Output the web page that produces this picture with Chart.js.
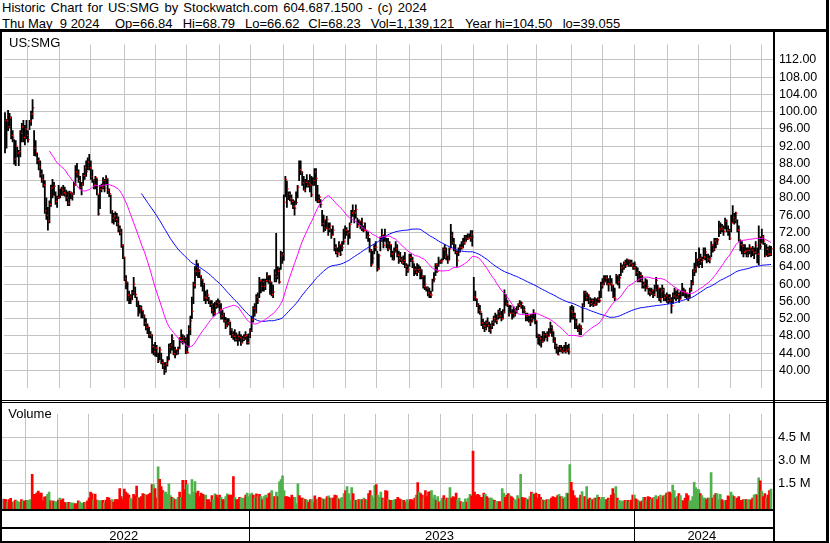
<!DOCTYPE html>
<html>
<head>
<meta charset="utf-8">
<script src="https://cdn.jsdelivr.net/npm/chart.js@4.4.1/dist/chart.umd.min.js"></script>
<style>
  html, body { margin: 0; padding: 0; background: #fff; }
  body { width: 830px; height: 543px; position: relative; overflow: hidden; font-family: "Liberation Sans", Arial, sans-serif; }
  .txt { position: absolute; font-size: 13px; line-height: 13px; color: #000; white-space: pre; }
  .ln { position: absolute; background: #000; }
  canvas { position: absolute; left: 0; }
</style>
</head>
<body>
<canvas id="priceChart" width="830" height="368" style="top:32px"></canvas>
<canvas id="volChart" width="830" height="141" style="top:402px"></canvas>

<div class="txt" style="left:2px;top:1px;word-spacing:1.6px">Historic Chart for US:SMG by Stockwatch.com 604.687.1500 - (c) 2024</div>
<div class="txt" style="left:2px;top:16.5px">Thu May  9 2024</div>
<div class="txt" style="left:115px;top:16.5px">Op=66.84</div>
<div class="txt" style="left:182.7px;top:16.5px">Hi=68.79</div>
<div class="txt" style="left:245px;top:16.5px">Lo=66.62</div>
<div class="txt" style="left:308.3px;top:16.5px">Cl=68.23</div>
<div class="txt" style="left:370.7px;top:16.5px">Vol=1,139,121</div>
<div class="txt" style="left:465px;top:16.5px">Year hi=104.50</div>
<div class="txt" style="left:562.7px;top:16.5px">lo=39.055</div>
<div class="txt" style="left:9px;top:35.7px">US:SMG</div>
<div class="txt" style="left:8.3px;top:406.7px">Volume</div>

<!-- frame lines -->
<div class="ln" style="left:0;top:29px;width:829px;height:3px"></div>
<div class="ln" style="left:0;top:29px;width:2px;height:514px"></div>
<div class="ln" style="left:826px;top:0;width:3px;height:543px"></div>
<div class="ln" style="left:773px;top:32px;width:2px;height:511px"></div>
<div class="ln" style="left:0;top:400px;width:829px;height:1px"></div>
<div class="ln" style="left:0;top:402px;width:829px;height:1px"></div>
<div class="ln" style="left:0;top:509px;width:775px;height:2px"></div>
<div class="ln" style="left:0;top:527px;width:775px;height:2px"></div>
<div class="ln" style="left:0;top:541px;width:829px;height:2px"></div>

<script>
// Daily bars, 10 May 2022 .. 9 May 2024 (index = trading day)
const closes = [
  98.0,97.8,96.5,98.6,94.5,94.0,89.0,92.0,90.4,90.8,
  95.0,96.5,94.0,96.0,94.5,93.5,97.8,99.5,100.9,91.5,
  90.5,88.6,87.2,85.5,84.3,83.0,77.0,76.0,74.6,78.5,
  82.3,80.5,82.7,79.2,80.1,82.3,80.6,81.8,81.2,80.9,
  80.0,78.8,81.2,80.8,81.0,83.0,86.0,85.5,84.0,82.5,
  83.2,85.2,87.0,86.1,88.3,87.0,85.0,84.2,83.0,84.7,
  81.0,76.3,82.0,82.5,84.0,82.3,84.5,81.8,81.0,77.0,
  75.3,75.8,75.0,74.0,72.8,72.0,69.0,66.3,61.3,60.5,
  57.5,57.0,56.3,58.0,60.0,57.6,56.2,53.2,54.5,53.9,
  52.6,51.0,50.0,50.2,48.3,48.0,45.5,44.3,45.2,45.0,
  42.2,44.8,41.8,41.2,40.0,41.5,42.3,45.4,45.9,47.5,
  43.9,44.8,44.2,45.0,47.6,47.0,47.6,46.9,44.3,44.2,
  49.6,51.5,53.7,59.8,63.0,63.8,63.0,62.0,61.0,60.0,
  57.0,56.8,57.5,56.3,55.3,54.0,53.3,55.0,55.8,55.5,
  54.2,52.6,53.0,51.5,50.4,51.0,51.5,49.4,48.3,47.9,
  47.2,48.3,47.9,47.6,46.3,47.3,47.9,48.1,46.5,48.0,
  49.2,51.8,54.4,53.5,57.0,56.2,60.8,59.5,60.6,59.5,
  60.8,62.0,60.8,60.5,57.6,58.2,62.5,61.8,63.0,60.5,
  66.6,67.0,79.0,84.3,82.1,80.8,79.8,79.2,78.0,77.6,
  78.9,82.5,86.5,85.9,83.5,81.8,83.6,82.9,83.5,83.0,
  80.7,84.0,86.0,84.5,79.3,80.2,78.5,74.0,74.9,73.0,
  75.0,72.8,73.5,71.3,72.5,68.5,67.4,67.0,69.2,66.9,
  68.5,69.9,72.5,71.7,72.0,73.8,76.5,76.9,76.5,77.3,
  73.5,74.6,73.0,74.2,72.4,72.6,71.0,71.3,67.9,64.5,
  66.0,68.5,68.6,63.6,66.6,70.3,71.5,69.0,71.0,69.5,
  68.2,69.2,67.0,65.6,67.5,68.2,66.7,66.0,65.6,65.0,
  65.5,64.1,63.2,63.4,66.2,65.5,65.2,63.4,62.8,63.4,
  62.9,63.4,61.8,59.5,60.0,59.1,58.0,57.6,57.5,60.6,
  61.2,64.5,63.0,65.5,65.2,65.4,68.0,66.3,66.8,65.4,
  68.2,71.3,69.6,68.0,67.3,65.5,67.5,68.5,68.4,69.6,
  69.8,70.6,70.5,70.8,71.6,70.9,57.0,56.6,55.1,54.0,
  53.6,51.0,50.3,49.7,51.0,50.4,49.4,50.4,51.2,52.0,
  51.6,52.5,53.6,52.6,52.0,53.5,56.9,55.5,55.2,53.3,
  54.8,53.3,52.9,53.7,54.4,55.3,55.0,55.6,54.1,53.6,
  52.6,52.9,51.2,52.0,51.5,53.2,51.6,48.5,47.9,47.4,
  46.8,48.3,47.3,48.3,47.9,48.6,50.0,49.4,46.8,45.7,
  45.0,43.6,45.0,44.5,45.0,44.3,44.5,44.9,44.3,53.8,
  53.5,52.6,51.2,50.4,49.4,50.1,49.7,55.0,58.0,56.9,
  57.6,56.2,55.5,56.2,55.3,55.8,55.4,56.5,56.2,59.7,
  60.0,60.5,61.4,60.1,59.8,60.2,59.8,56.9,56.6,62.0,
  60.5,61.5,63.8,64.1,64.9,64.3,65.7,64.6,64.9,64.4,
  63.8,64.6,62.7,61.0,62.0,60.9,59.8,60.2,59.1,59.5,
  58.2,58.0,58.5,57.6,58.7,60.9,59.1,56.6,58.3,58.7,
  56.9,57.3,56.2,56.9,56.3,55.0,57.3,58.7,57.0,57.6,
  56.5,58.0,58.4,58.2,58.0,56.9,56.8,58.8,60.2,63.0,
  63.5,64.0,65.6,66.0,65.2,65.6,66.3,67.5,65.9,65.6,
  65.9,69.0,68.1,70.0,69.5,70.3,72.8,73.2,72.8,72.2,
  74.6,72.5,72.4,70.6,74.2,75.5,74.9,76.4,72.5,70.3,
  69.2,68.8,67.4,67.7,66.6,67.8,68.5,67.9,67.3,67.4,
  69.0,67.0,69.5,68.7,71.0,70.0,66.6,68.1,67.0,66.9,68.23
];
const highs = [
  99.8,98.2,100.3,99.6,98.8,95.6,93.5,93.3,91.7,91.0,
  95.6,97.3,98.0,96.8,98.0,95.6,98.0,100.1,102.8,95.6,
  93.3,90.4,89.3,88.6,86.5,85.4,84.0,80.0,77.8,79.3,
  83.0,84.3,83.6,81.4,80.4,82.9,82.1,82.5,82.9,82.5,
  81.8,81.4,81.6,81.4,81.2,83.6,87.5,88.0,86.5,85.0,
  83.6,85.7,87.5,88.6,89.3,90.1,88.6,86.5,84.3,85.0,
  84.5,80.7,82.9,83.2,84.7,84.3,85.2,84.5,82.1,80.7,
  77.1,76.4,76.8,76.4,75.6,73.5,72.8,69.2,66.3,62.0,
  60.5,58.4,57.6,58.6,61.6,59.3,57.0,56.0,55.1,55.0,
  53.9,52.9,52.0,50.8,50.0,49.0,48.3,46.0,46.5,45.8,
  44.0,45.4,44.0,42.5,41.8,41.8,43.2,46.1,46.3,48.3,
  47.0,45.4,44.7,45.4,47.6,49.4,48.3,48.0,47.6,48.3,
  50.4,52.6,57.0,60.5,64.1,65.6,64.8,63.4,62.0,61.2,
  60.2,58.4,58.7,57.0,56.2,56.2,55.5,55.8,56.2,56.6,
  56.2,55.5,54.0,53.3,52.3,52.0,52.0,51.2,49.7,49.0,
  49.5,48.7,48.3,49.0,48.3,47.9,48.3,49.0,48.3,48.5,
  49.7,52.6,54.8,55.5,57.6,58.0,61.6,61.0,61.2,61.2,
  61.2,62.7,62.0,62.0,60.5,59.8,63.4,71.8,64.1,63.8,
  67.7,67.4,80.7,85.0,83.9,81.4,81.4,80.7,79.6,79.3,
  81.4,82.9,88.6,88.6,86.1,85.0,84.3,85.4,84.0,85.4,
  85.0,84.7,86.8,86.8,82.9,80.7,79.6,77.1,76.0,74.9,
  75.7,74.2,74.2,72.8,73.5,70.6,69.2,68.4,69.9,69.2,
  69.9,72.8,73.5,73.1,72.4,74.2,77.1,78.4,77.1,78.4,
  75.3,74.9,74.6,75.3,73.5,74.2,72.4,72.1,70.6,68.1,
  67.7,69.2,69.9,67.7,67.0,71.0,72.8,71.3,72.8,70.6,
  70.6,69.9,69.2,67.7,68.4,69.9,69.2,67.7,67.4,66.3,
  66.6,67.4,64.8,64.5,67.0,67.0,66.3,64.8,64.1,64.8,
  64.5,64.1,63.4,62.0,62.0,59.4,59.4,59.1,58.4,61.2,
  62.7,64.8,64.8,66.3,65.6,65.9,68.4,69.2,68.4,66.6,
  68.4,73.9,72.1,70.6,69.2,67.7,68.4,69.2,69.9,70.6,
  71.3,71.3,71.7,71.7,72.4,72.4,61.6,58.4,56.6,55.5,
  55.1,53.3,51.9,51.2,51.5,52.2,51.2,50.8,51.5,52.6,
  53.3,52.9,54.0,54.4,53.7,54.1,58.7,57.6,56.2,55.1,
  55.1,54.1,54.8,54.4,54.8,55.5,56.2,55.9,55.1,54.8,
  53.3,53.3,52.6,53.0,53.0,54.1,53.3,51.5,48.3,48.3,
  47.9,49.0,49.0,48.6,49.0,49.7,51.2,50.4,49.0,47.6,
  46.1,45.4,45.8,45.8,45.4,45.8,46.5,45.8,46.1,54.8,
  55.1,54.8,53.3,51.9,50.4,50.8,50.4,55.5,58.4,58.4,
  58.0,57.6,56.9,56.6,56.6,56.9,56.6,56.9,58.4,60.5,
  61.3,62.0,62.0,62.0,61.3,62.0,61.3,59.8,59.1,62.3,
  62.0,62.3,64.9,64.5,65.2,65.6,65.9,65.7,65.6,65.6,
  64.9,65.2,64.1,63.8,63.0,62.7,62.0,60.5,61.3,61.0,
  59.1,59.1,59.1,58.7,59.8,61.6,59.8,59.1,59.1,59.8,
  59.1,57.6,58.0,57.6,57.6,56.9,58.0,59.1,58.4,58.7,
  58.0,58.4,60.2,59.1,58.7,58.0,57.6,59.1,60.9,63.4,
  64.9,67.4,65.9,68.4,67.0,66.3,68.4,68.4,67.0,67.0,
  66.6,69.9,69.2,70.6,70.6,70.6,74.6,74.2,73.9,73.5,
  75.3,74.9,73.5,72.8,76.0,78.2,76.4,76.7,74.9,73.5,
  70.3,69.9,69.2,69.2,68.4,68.4,69.2,68.4,68.8,68.4,
  69.9,68.4,73.5,71.0,72.8,71.3,69.5,69.2,68.6,68.9,68.79
];
const lows = [
  90.4,91.5,95.6,96.2,93.7,93.0,87.8,87.5,89.5,87.5,
  89.5,93.0,93.0,92.3,93.7,92.9,95.8,96.8,98.3,89.8,
  89.7,87.9,86.5,84.8,83.6,82.5,76.4,75.0,72.5,74.2,
  78.0,80.0,80.5,78.5,77.8,79.8,80.0,80.5,80.6,80.4,
  79.3,78.2,78.2,79.8,79.5,80.8,82.9,84.8,83.6,82.1,
  80.7,82.9,84.3,85.0,86.5,86.5,84.3,83.6,82.1,82.1,
  80.7,76.0,77.5,81.4,82.1,81.4,83.0,81.0,80.3,76.4,
  74.2,73.9,74.5,73.5,72.1,71.4,68.5,65.9,60.8,58.9,
  56.2,55.5,55.5,56.4,57.5,56.9,54.8,52.6,53.3,52.2,
  52.2,50.4,49.4,48.5,47.6,47.5,44.0,43.6,43.3,43.2,
  41.8,42.5,41.5,40.4,39.06,39.6,41.0,42.5,44.0,44.7,
  43.6,42.9,43.6,43.8,45.0,46.5,46.1,46.5,43.9,44.0,
  45.4,48.3,52.0,55.5,59.1,62.0,61.5,61.5,59.5,58.4,
  56.2,55.5,56.2,55.5,54.8,53.3,52.6,52.8,54.4,54.6,
  53.3,51.9,51.9,51.2,49.7,50.1,50.5,48.3,47.6,47.2,
  46.8,46.8,45.8,46.8,45.8,46.5,46.9,47.2,46.1,46.1,
  47.6,49.0,51.2,52.6,53.3,55.5,56.9,58.0,58.4,58.4,
  58.7,60.5,60.2,57.6,57.3,56.9,60.5,60.5,61.2,60.2,
  63.4,64.8,65.5,80.3,77.8,79.6,79.3,78.5,77.5,76.0,
  78.5,80.0,84.0,85.4,82.9,81.8,81.4,82.5,82.5,81.4,
  80.3,82.9,82.9,79.3,78.9,78.9,77.8,73.5,72.1,72.4,
  72.8,71.3,72.1,70.6,71.3,67.7,67.0,66.3,67.4,66.6,
  67.7,69.2,70.6,71.3,69.2,70.6,74.2,75.7,74.2,75.3,
  73.1,73.8,72.8,72.4,72.1,72.4,70.6,69.9,67.4,64.1,
  64.8,67.0,67.7,63.0,63.4,67.7,69.9,68.4,69.9,68.4,
  67.7,68.1,66.3,65.6,65.6,67.4,66.3,64.8,65.2,64.8,
  64.5,63.8,62.0,62.7,64.1,65.2,63.8,62.0,62.3,62.0,
  62.7,61.2,61.2,59.1,58.7,58.4,57.3,56.9,56.9,58.4,
  60.5,62.0,62.7,64.1,64.8,64.8,65.6,65.9,65.6,64.8,
  65.6,68.4,69.2,67.7,67.0,64.1,66.6,67.4,68.1,68.4,
  69.2,69.9,70.3,70.6,69.9,68.8,56.2,56.2,54.8,53.3,
  53.0,50.4,49.7,49.0,49.4,50.1,49.0,48.6,49.7,50.4,
  51.2,50.8,51.9,52.2,51.5,51.9,53.3,55.1,54.8,52.6,
  53.3,51.9,52.3,52.6,53.3,54.1,54.8,54.4,53.3,53.3,
  51.5,51.5,51.2,50.4,51.2,51.9,50.8,47.6,46.1,45.8,
  45.4,46.5,46.8,47.6,46.8,47.9,48.6,47.9,46.5,45.0,
  44.0,43.6,44.3,44.3,44.0,44.3,44.0,44.3,43.8,51.2,
  51.9,51.9,49.7,49.7,49.0,48.3,48.3,51.2,54.8,56.2,
  56.2,55.5,54.8,55.1,54.8,55.1,55.1,55.8,55.8,56.9,
  59.1,59.8,60.5,59.8,58.4,59.8,58.4,56.9,56.2,60.2,
  59.8,59.1,62.0,62.7,63.4,63.8,64.5,64.1,64.1,64.1,
  63.4,63.4,62.0,60.5,60.5,60.5,59.1,59.1,58.4,58.9,
  57.6,57.3,57.6,56.9,57.3,58.4,56.9,56.2,55.8,56.9,
  56.2,56.2,55.8,55.5,55.8,53.3,55.5,56.6,56.2,56.6,
  55.8,56.6,57.3,57.3,56.9,56.6,56.2,56.9,58.4,59.8,
  62.0,62.7,64.1,63.8,64.5,63.8,65.9,65.6,64.9,65.2,
  64.9,66.3,67.4,67.7,68.4,69.2,71.0,71.7,72.1,71.3,
  72.8,72.1,71.3,70.3,72.1,74.2,73.9,74.2,72.1,69.9,
  67.7,67.0,66.3,67.0,66.3,66.3,67.0,66.3,66.6,65.9,
  67.0,64.9,64.5,68.1,69.5,69.2,66.3,66.6,66.4,66.5,66.62
];
// volume in thousands of shares
const volumes = [
  480,470,460,270,450,540,280,330,430,370,
  310,270,460,370,360,400,400,420,460,2100,
  790,790,900,1000,880,870,370,610,650,800,
  940,370,370,360,330,310,420,560,420,500,
  270,200,270,270,250,230,230,180,200,370,
  310,210,230,270,300,370,560,940,850,460,
  810,420,400,370,370,400,250,420,600,560,
  400,460,300,460,460,460,1170,650,460,1130,
  940,850,750,560,460,790,690,1330,600,560,
  650,850,790,750,750,810,880,1420,1420,1170,
  560,2580,1770,1290,1040,940,940,800,1480,710,
  600,560,460,460,600,940,600,1710,1100,1710,
  1420,810,750,1750,940,1620,900,1000,650,870,
  790,750,750,460,460,270,710,460,830,750,
  560,750,600,460,460,650,830,750,750,750,
  1940,600,460,460,600,560,560,560,750,880,
  650,790,880,750,560,830,650,790,650,460,
  650,750,560,850,900,1040,650,650,940,650,
  1600,1750,2000,1040,650,650,600,560,750,600,
  600,200,1480,710,560,560,500,460,400,270,
  460,460,300,690,460,500,600,560,500,460,
  500,650,690,560,560,560,750,710,560,460,
  560,600,850,1040,1290,850,400,1230,850,400,
  400,460,460,460,460,560,460,400,850,1040,
  710,560,1370,1420,750,600,940,560,460,1040,
  1000,460,400,400,400,460,460,600,500,460,
  400,400,300,460,270,460,460,370,560,750,
  1560,940,850,750,560,1040,650,940,980,1040,
  560,750,420,650,300,370,560,710,460,560,
  560,1230,560,650,600,880,460,560,330,270,
  300,500,300,560,790,700,3600,940,710,790,
  750,600,600,880,800,650,560,560,560,460,
  400,330,330,330,330,1170,880,600,750,850,
  710,650,560,460,400,710,500,2100,600,560,
  560,460,460,650,940,850,790,880,560,790,
  600,460,400,370,460,460,460,560,650,600,
  560,710,800,650,650,500,600,880,850,2730,
  1580,1040,710,560,560,560,750,980,650,650,
  1290,460,560,460,460,560,560,750,600,460,
  600,600,460,460,560,460,750,1170,850,1290,
  560,400,370,330,370,400,370,400,310,420,
  750,750,500,420,370,300,370,600,600,400,
  650,600,460,560,600,710,460,650,750,560,
  690,750,880,940,940,850,1400,1040,560,650,
  850,710,400,370,560,850,710,370,370,650,
  1580,1230,1100,1100,850,710,560,560,460,560,
  560,2200,560,750,850,850,460,790,460,370,
  370,400,700,650,940,750,650,560,560,650,
  400,400,460,460,460,420,460,420,560,750,
  790,750,1870,1670,1000,650,850,560,750,1040,1139
];

// axis ticks
const priceTicks = [40,44,48,52,56,60,64,68,72,76,80,84,88,92,96,100,104,108,112];
const volumeTicks = [1.5e6, 3.0e6, 4.5e6];
// first trading day of each month, as bar index
const monthTicks = [14.5,35.4,55.8,77.9,98.1,118.7,140.2,160.4,182.1,201.6,222.5,242.6,
                    264.1,284.7,305.5,327.9,347,369.6,390,410.6,432.5,452.7,473.3,493.9];
const years = ["2022", "2023", "2024"];
const yearStarts = [160.4, 410.6];

const shortMA = 30;
const longMA = 90;

const gridColor = "#c4c4c4";
const upColor = "#4fb24c";
const downColor = "#ff0000";
const flatColor = "#a0a0a0";

const xMin = -0.65, xMax = 501.95;
const volMin = -0.156e6, volMax = 6.017e6;

function movingAverage(vals, n) {
  const out = [];
  let sum = 0;
  for (let i = 0; i < vals.length; i++) {
    sum += vals[i];
    if (i >= n) sum -= vals[i - n];
    if (i >= n - 1) out.push({ x: i, y: sum / n });
  }
  return out;
}

const volColors = volumes.map((v, i) => {
  if (i === 0 || closes[i] === closes[i - 1]) return flatColor;
  return closes[i] > closes[i - 1] ? upColor : downColor;
});

function xAxis() {
  return {
    type: "linear",
    min: xMin,
    max: xMax,
    offset: false,
    grid: { color: gridColor, offset: false, drawTicks: false, lineWidth: 1 },
    border: { display: false },
    ticks: { display: false },
    afterBuildTicks: s => { s.ticks = monthTicks.map(v => ({ value: v })); },
    afterFit: s => { s.height = 0; }
  };
}

const axisFont = { family: "Liberation Sans", size: 12.5 };

// price panel
new Chart(document.getElementById("priceChart"), {
  type: "bar",
  data: {
    datasets: [
      {
        type: "line",
        data: movingAverage(closes, shortMA),
        borderColor: "#ff00ff",
        borderWidth: 1,
        pointRadius: 0,
        order: 0
      },
      {
        type: "line",
        data: movingAverage(closes, longMA),
        borderColor: "#0000ff",
        borderWidth: 1,
        pointRadius: 0,
        order: 0
      },
      {
        // close tick, just right of each bar
        type: "line",
        data: closes.map((c, i) => ({ x: i + 0.7, y: c })),
        showLine: false,
        pointStyle: "rect",
        pointRadius: 0.95,
        pointBackgroundColor: "#ff0000",
        pointBorderWidth: 0,
        order: 1
      },
      {
        type: "bar",
        data: closes.map((c, i) => ({ x: i, y: [lows[i], highs[i]] })),
        backgroundColor: "#000",
        borderWidth: 0,
        barThickness: 1.15,
        order: 2
      }
    ]
  },
  options: {
    responsive: false,
    animation: false,
    devicePixelRatio: 1,
    layout: { padding: { left: 2, right: 4, top: 0, bottom: 0 } },
    plugins: { legend: { display: false }, tooltip: { enabled: false } },
    scales: {
      x: xAxis(),
      y: {
        position: "right",
        min: 36.05,
        max: 115.56,
        grid: { color: gridColor, drawTicks: false },
        border: { display: false },
        ticks: {
          color: "#000",
          font: axisFont,
          padding: 5,
          callback: v => Number(v).toFixed(2)
        },
        afterBuildTicks: s => { s.ticks = priceTicks.map(v => ({ value: v })); },
        afterFit: s => { s.width = 52; }
      }
    }
  }
});

// year labels under the volume panel
const yearPlugin = {
  id: "yearStrip",
  afterDraw(chart) {
    const { ctx } = chart;
    const x = chart.scales.x;
    const bounds = [x.left].concat(yearStarts.map(v => x.getPixelForValue(v)), [x.right]);
    ctx.save();
    ctx.fillStyle = "#000";
    yearStarts.forEach(v => {
      ctx.fillRect(Math.round(x.getPixelForValue(v)), 109, 1, 30);
    });
    ctx.font = '13px "Liberation Sans"';
    ctx.textAlign = "center";
    ctx.textBaseline = "alphabetic";
    years.forEach((y, k) => {
      ctx.fillText(y, (bounds[k] + bounds[k + 1]) / 2 - 2, 138);
    });
    ctx.restore();
  }
};

// volume panel
new Chart(document.getElementById("volChart"), {
  type: "bar",
  data: {
    datasets: [{
      data: volumes.map((v, i) => ({ x: i, y: v * 1000 })),
      backgroundColor: volColors,
      borderWidth: 0,
      barThickness: 2,
      base: volMin
    }]
  },
  options: {
    responsive: false,
    animation: false,
    devicePixelRatio: 1,
    layout: { padding: { left: 2, right: 4, top: 0, bottom: 34 } },
    plugins: { legend: { display: false }, tooltip: { enabled: false } },
    scales: {
      x: xAxis(),
      y: {
        position: "right",
        min: volMin,
        max: volMax,
        grid: { color: gridColor, drawTicks: false },
        border: { display: false },
        ticks: {
          color: "#000",
          font: { family: "Liberation Sans", size: 13 },
          padding: 4,
          callback: v => (v / 1e6).toFixed(1) + " M"
        },
        afterBuildTicks: s => { s.ticks = volumeTicks.map(v => ({ value: v })); },
        afterFit: s => { s.width = 52; }
      }
    }
  },
  plugins: [yearPlugin]
});
</script>
</body>
</html>
